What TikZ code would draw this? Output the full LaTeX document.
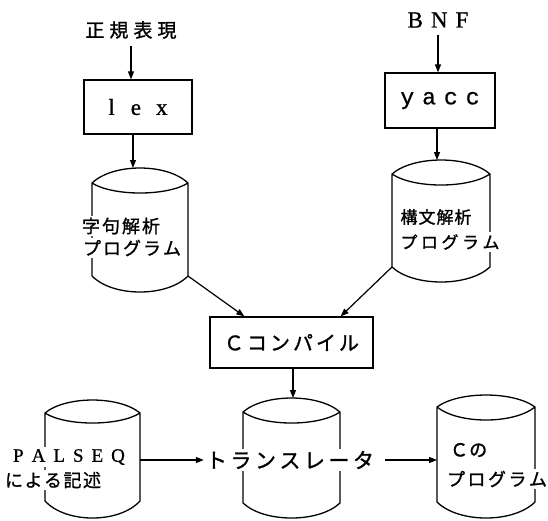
\documentclass[tikz,border=0pt]{standalone}
\usepackage{fontspec}
\usetikzlibrary{arrows.meta,calc}
\newfontfamily\jp[FakeBold=1.2]{Noto Sans CJK JP}
\newfontfamily\lserif[FakeBold=0.8]{Liberation Serif}
\newfontfamily\lmono[FakeBold=0.8]{Liberation Mono}
\newlength\lgap
\newcommand\gp{\hspace{\lgap}}
% drum: xl, xr, top corner y, peak y, lens bottom y, bottom corner y, bottom dip y
\newcommand\drum[7]{%
  \pgfmathsetmacro\dw{#2-#1}%
  \pgfmathsetmacro\ca{#1+0.22*\dw}%
  \pgfmathsetmacro\cb{#2-0.22*\dw}%
  \pgfmathsetmacro\yt{(#4-0.25*#3)/0.75}%
  \pgfmathsetmacro\yl{(#5-0.25*#3)/0.75}%
  \pgfmathsetmacro\yb{(#7-0.25*#6)/0.75}%
  \draw[drumline] (#1,#3) .. controls (\ca,\yt) and (\cb,\yt) .. (#2,#3)
     .. controls (\cb,\yl) and (\ca,\yl) .. (#1,#3) -- (#1,#6)
     .. controls (\ca,\yb) and (\cb,\yb) .. (#2,#6) -- (#2,#3);
}
\begin{document}
\begin{tikzpicture}[x=1pt,y=-1pt,
  drumline/.style={line width=1.3pt, line join=round},
  arr/.style={line width=1.2pt, -{Triangle[length=8pt,width=6pt]}},
  lbl/.style={fill=white, inner sep=2pt},
  procbox/.style={draw, line width=1.3pt, inner sep=0pt}]
\useasboundingbox (0,0) rectangle (548,520);
\fill[white] (0,0) rectangle (548,520);

% drums
\drum{92}{188}{183}{168}{193}{276}{292}
\drum{392}{490}{174}{160}{185}{267}{282}
\drum{45}{140}{413}{400}{423}{501}{518}
\drum{243}{340}{412}{398}{423}{503}{518}
\drum{437}{535}{407}{395}{420}{502}{518}
\coordinate (c1top) at (133,168);
\coordinate (c1br) at (188,276);
\coordinate (c2top) at (437,160);
\coordinate (c2bl) at (392,267);
\coordinate (c3top) at (293,398);
\coordinate (p1r) at (140,460);
\coordinate (c5l) at (437,460);

% top inputs
\node[lbl, font=\jp\fontsize{19}{19}\selectfont] (reg) at (131,30)
  {\setlength\lgap{5pt}正\gp 規\gp 表\gp 現};
\node[lbl, font=\lserif\fontsize{23}{23}\selectfont] (bnf) at (438,20)
  {B\hspace{8pt}N\hspace{8pt}F};

% boxes
\node[procbox, minimum width=108pt, minimum height=54pt,
  font=\lserif\fontsize{23}{23}\selectfont] (lexbox) at (138,107)
  {l\hspace{16pt}e\hspace{15pt}x};
\node[procbox, minimum width=110pt, minimum height=55pt,
  font=\lmono\fontsize{23}{23}\selectfont] (yaccbox) at (440,100.5)
  {y\hspace{8pt}a\hspace{8pt}c\hspace{8pt}c};
\node[procbox, minimum width=163pt, minimum height=51pt,
  font=\jp\fontsize{20}{20}\selectfont] (ccbox) at (291.5,342.5)
  {\setlength\lgap{3pt}Ｃ\gp コ\gp ン\gp パ\gp イ\gp ル};

% drum labels
\node[lbl, font=\jp\fontsize{18}{18}\selectfont] (t1a) at (121,226)
  {\setlength\lgap{2pt}字\gp 句\gp 解\gp 析};
\node[lbl, font=\jp\fontsize{18}{18}\selectfont] (t1b) at (132,248)
  {\setlength\lgap{2pt}プ\gp ロ\gp グ\gp ラ\gp ム};
\node[lbl, font=\jp\fontsize{17}{17}\selectfont] (t2a) at (436,217)
  {\setlength\lgap{1pt}構\gp 文\gp 解\gp 析};
\node[lbl, font=\jp\fontsize{17}{17}\selectfont] (t2b) at (450,242)
  {\setlength\lgap{3.5pt}プ\gp ロ\gp グ\gp ラ\gp ム};
\node[lbl, font=\lserif\fontsize{19}{19}\selectfont] (t3a) at (69,457)
  {P\hspace{8pt}A\hspace{8pt}L\hspace{8pt}S\hspace{8pt}E\hspace{8pt}Q};
\node[lbl, font=\jp\fontsize{18}{18}\selectfont] (t3b) at (53,480)
  {\setlength\lgap{1.5pt}に\gp よ\gp る\gp 記\gp 述};
\node[lbl, font=\jp\fontsize{21}{21}\selectfont] (tr) at (290,460)
  {\setlength\lgap{3.5pt}ト\gp ラ\gp ン\gp ス\gp レ\gp ー\gp タ};
\node[lbl, font=\jp\fontsize{18}{18}\selectfont, anchor=west] (t5a) at (448,450)
  {Ｃ\hspace{1pt}の};
\node[lbl, font=\jp\fontsize{18}{18}\selectfont] (t5b) at (497,479)
  {\setlength\lgap{2.5pt}プ\gp ロ\gp グ\gp ラ\gp ム};

% connectors
\draw[arr, shorten <=5pt] (reg.south) -- (reg.south |- lexbox.north);
\draw[arr] (lexbox.south -| c1top) -- (c1top);
\draw[arr, shorten <=5pt] (bnf.south) -- (bnf.south |- yaccbox.north);
\draw[arr] (yaccbox.south -| c2top) -- (c2top);
\draw[arr] (c1br) -- ([xshift=35pt]ccbox.north west);
\draw[arr] (c2bl) -- ([xshift=-33pt]ccbox.north east);
\draw[arr] (ccbox.south -| c3top) -- (c3top);
\draw[arr] (p1r) -- (tr.west);
\draw[arr, shorten <=9pt] (tr.east) -- (c5l);
\end{tikzpicture}
\end{document}
